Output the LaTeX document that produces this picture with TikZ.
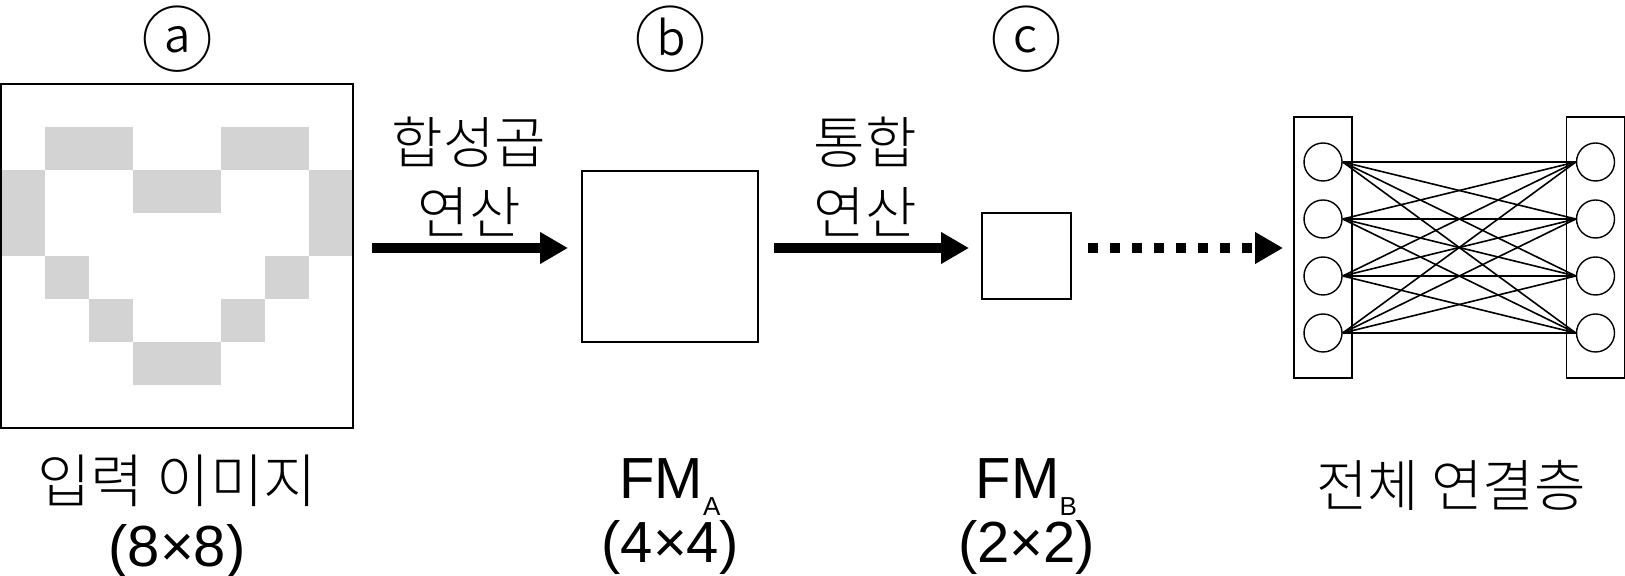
\documentclass[tikz,border=0pt]{standalone}
\usepackage{fontspec}
\setmainfont{Liberation Sans}
\newfontfamily\kr{Noto Sans CJK KR Light}
\usetikzlibrary{arrows.meta,positioning}
\definecolor{cellgray}{RGB}{211,211,211}

\begin{document}
\begin{tikzpicture}[%
    x=0.5pt, y=-0.5pt,
    box/.style={draw, line width=0.8pt, inner sep=0pt},
    layerbox/.style={box, minimum width=29pt, minimum height=130.5pt},
    neuron/.style={draw, circle, line width=0.7pt, minimum size=19pt, inner sep=0pt},
    link/.style={line width=0.8pt},
    tag/.style={font=\kr\fontsize{36}{36}\selectfont, inner sep=0pt},
    optext/.style={font=\kr\fontsize{28}{35}\selectfont, align=center, inner sep=0pt},
    caption/.style={font=\fontsize{29}{32}\selectfont, align=center, inner sep=0pt},
    bigarrow/.style={line width=5pt, -{Triangle[length=14pt,width=15pt]}}
  ]
    \useasboundingbox (0,0) rectangle (1625,576);

    \foreach \c/\r in {1/1,2/1,5/1,6/1,0/2,3/2,4/2,7/2,0/3,7/3,1/4,6/4,2/5,5/5,3/6,4/6}
      \fill[cellgray] ({1+44*\c},{84+43*\r}) rectangle +(44,43);

    \node[box, minimum width=176pt, minimum height=172pt] (img) at (177,256) {};
    \node[box, minimum width=88pt, minimum height=85.5pt] (fmA) at (670,256.5) {};
    \node[box, minimum width=44.5pt, minimum height=43pt] (fmB) at (1026.5,256) {};
    \node[layerbox] (fcL) at (1323,247.5) {};
    \node[layerbox] (fcR) at (1595.5,247.5) {};

    \foreach \i/\y in {1/162,2/219,3/276,4/333} {
      \node[neuron] (l\i) at (fcL |- 0,\y) {};
      \node[neuron] (r\i) at (fcR |- 0,\y) {};
    }
    \foreach \i in {1,...,4}
      \foreach \j in {1,...,4}
        \draw[link] (l\i.east) -- (r\j.west);

    \node[tag] (tagA) at (img |- 0,39) {ⓐ};
    \node[tag] (tagB) at (fmA |- 0,39) {ⓑ};
    \node[tag] (tagC) at (fmB |- 0,39) {ⓒ};

    \node[optext] (conv) at (469,177) {합성곱\\연산};
    \node[optext] (pool) at (865,177) {통합\\연산};

    \coordinate (a1s) at (372,248);
    \coordinate (a1e) at (568,248);
    \coordinate (a2s) at (774,248);
    \coordinate (a2e) at (969,248);
    \coordinate (a3s) at (1088,248);
    \coordinate (a3e) at (1283,248);
    \draw[bigarrow] (a1s) -- (a1e);
    \draw[bigarrow] (a2s) -- (a2e);
    \draw[bigarrow, dash pattern=on 5pt off 6pt] (a3s) -- (a3e);

    \node[caption] (inname) at (img |- 0,517) {{\kr 입력 이미지}\\(8×8)};
    \node[caption] (fmAname) at (fmA |- 0,517) {FM\raisebox{-8.5pt}{\fontsize{13}{13}\selectfont A}\\(4×4)};
    \node[caption] (fmBname) at (fmB |- 0,517) {FM\raisebox{-8.5pt}{\fontsize{13}{13}\selectfont B}\\(2×2)};
    \node[optext] (fcname) at (1451,485) {전체 연결층};
\end{tikzpicture}
\end{document}
